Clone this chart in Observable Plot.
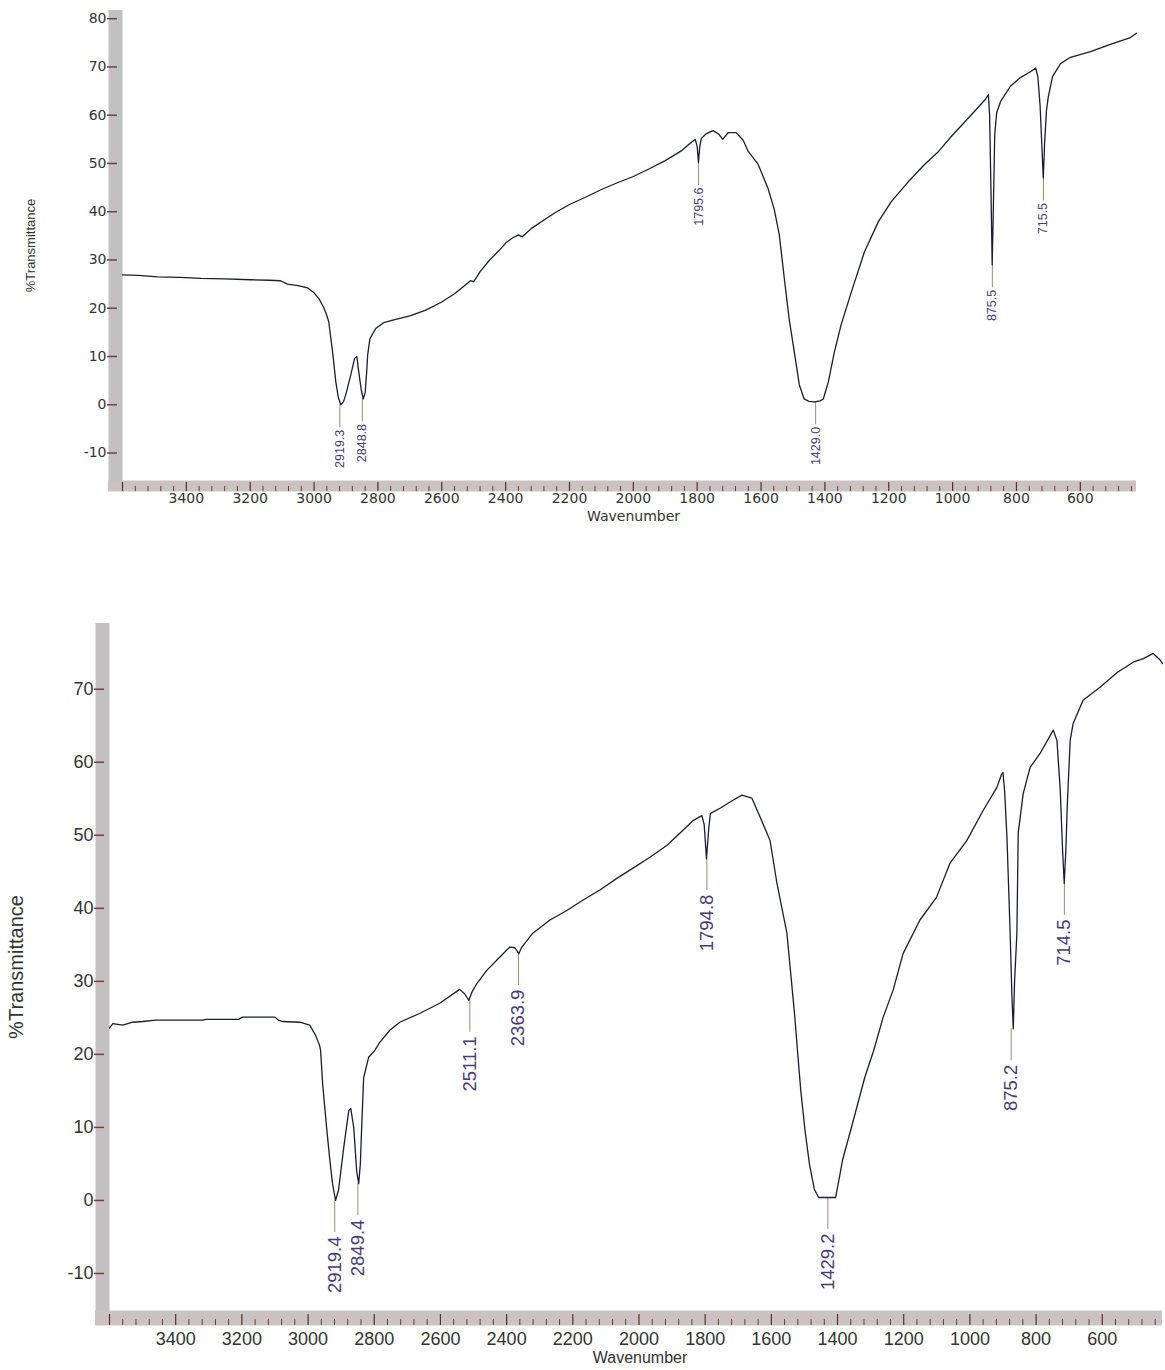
<!DOCTYPE html>
<html><head><meta charset="utf-8">
<script src="https://cdn.jsdelivr.net/npm/d3@7"></script>
<script src="https://cdn.jsdelivr.net/npm/@observablehq/plot@0.6"></script>
<style>
body{margin:0;background:#fff;}
#wrap{position:relative;width:1165px;height:1370px;overflow:hidden;background:#fff;}
#top,#bottom{position:absolute;left:0;}
#top{top:0}
#bottom{top:590px}
</style></head><body><div id="wrap"><div id="top"></div><div id="bottom"></div></div>
<script>
// ---------- data ----------
const xTickLabels = [3400, 3200, 3000, 2800, 2600, 2400, 2200, 2000, 1800, 1600, 1400, 1200, 1000, 800, 600];
const topYTicks = [-10, 0, 10, 20, 30, 40, 50, 60, 70, 80];
const bottomYTicks = [-10, 0, 10, 20, 30, 40, 50, 60, 70];

const topWave = [3600,3550,3490,3420,3355,3280,3199,3140,3105,3083,3051,3020,3000,2985,2970,2960,2954,2941,2932,2924,2916,2908,2901,2885,2873,2866,2860,2852,2846,2840,2835,2832,2825,2807,2782,2750,2700,2650,2600,2560,2530,2510,2500,2490,2480,2450,2420,2400,2380,2360,2348,2335,2320,2280,2240,2200,2150,2100,2050,2000,1950,1900,1850,1820,1806,1800,1796,1792,1787,1771,1750,1731,1720,1710,1703,1678,1656,1640,1609,1578,1559,1543,1527,1512,1496,1480,1465,1450,1433,1415,1405,1389,1370,1349,1317,1276,1232,1192,1139,1088,1044,1000,944,897,888,884,880,876,872,868,862,850,819,788,756,740,733,726,720,716,712,706,700,687,662,631,568,506,443,424];
const topT = [26.9,26.8,26.5,26.4,26.2,26.1,25.9,25.8,25.7,25.0,24.7,24.2,23.2,22.0,20.2,18.5,17.2,10.4,4.8,1.5,0,0.6,2.0,6.2,9.6,10.0,6.8,3.0,1.2,2.5,7.0,10.4,13.7,15.8,17.0,17.6,18.4,19.6,21.3,23.0,24.6,25.7,25.5,26.5,27.6,30.0,32.0,33.5,34.5,35.2,34.8,35.6,36.5,38.3,40.0,41.5,43.0,44.6,46.0,47.3,48.9,50.6,52.6,54.3,55.0,53.5,50.2,53.5,55.2,56.2,56.8,56.0,55.0,55.8,56.4,56.4,54.8,52.5,49.8,44.8,40.6,35.3,26.1,17.8,11.0,4.1,1.2,0.7,0.6,0.8,1.2,4.8,11.0,16.6,23.4,31.7,38.0,42.1,46.2,49.8,52.5,55.9,59.9,63.3,64.3,60.0,45.0,29.0,42.0,56.0,60.5,62.8,66.0,67.8,69.0,69.8,68.0,62.0,53.0,47.0,54.0,61.0,63.9,68.0,70.7,72.0,73.2,74.7,76.1,77.0];

const topPeakWave = [2919.3, 2848.8, 1795.6, 1429.0, 875.5, 715.5];
const topPeakT = [0, 1.2, 50.2, 0.6, 29.0, 47.0];
const topPeakLabels = ["2919.3", "2848.8", "1795.6", "1429.0", "875.5", "715.5"];

const bottomWave = [3600,3590,3560,3530,3500,3460,3400,3320,3307,3210,3198,3100,3090,3077,3025,2995,2977,2965,2962,2956,2944,2935,2926,2917,2908,2892,2877,2871,2862,2853,2847,2842,2838,2832,2817,2799,2784,2753,2723,2663,2602,2542,2527,2514,2505,2490,2460,2421,2390,2375,2363,2355,2345,2321,2269,2218,2170,2118,2067,2018,1967,1916,1867,1837,1810,1803,1796,1789,1784,1755,1716,1689,1659,1634,1604,1583,1553,1529,1521,1511,1498,1485,1470,1457,1406,1395,1385,1355,1318,1291,1262,1232,1202,1151,1101,1060,1009,960,918,905,900,895,888,879,873,869,865,858,854,839,818,788,748,737,727,720,715,710,706,697,688,658,606,555,507,476,446,425,418];
const bottomT = [23.6,24.2,24.0,24.4,24.5,24.7,24.7,24.7,24.8,24.8,25.1,25.1,24.7,24.5,24.4,24.0,22.6,21.2,20.5,16.0,10.0,5.9,2.3,0,1.4,7.3,12.3,12.6,10.0,4.0,2.3,5.0,10.0,16.8,19.6,20.5,21.6,23.3,24.4,25.6,27.0,28.9,28.3,27.4,28.5,29.7,31.5,33.3,34.7,34.6,33.8,34.6,35.2,36.6,38.4,39.7,41.1,42.5,44.1,45.5,47.0,48.6,50.7,52.0,52.7,51.5,46.8,51.0,53.0,53.7,54.8,55.5,55.1,52.5,49.3,43.4,36.6,25.1,20.5,15.0,9.5,5.0,1.5,0.4,0.4,3.0,5.5,10.5,16.8,20.5,25.1,28.8,33.8,38.4,41.5,46.2,49.3,53.4,56.6,58.3,58.6,56.0,49.7,37.4,28.0,23.5,30.0,36.6,50.3,55.7,59.3,61.2,64.4,63.0,56.2,48.0,43.4,48.0,53.8,63.0,65.3,68.5,70.3,72.3,73.7,74.2,74.9,74.0,73.5];

const bottomPeakWave = [2919.4, 2849.4, 2511.1, 2363.9, 1794.8, 1429.2, 875.2, 714.5];
const bottomPeakT = [0, 2.3, 27.4, 33.8, 46.8, 0.4, 23.5, 43.4];
const bottomPeakLabels = ["2919.4", "2849.4", "2511.1", "2363.9", "1794.8", "1429.2", "875.2", "714.5"];

// ---------- chart builder ----------
const plain = d => String(d);

function spectrumChart(o) {
  const spectrum = o.wave.map((w, i) => ({w, t: o.trans[i]}));
  const peaks = o.peakWave.map((w, i) => ({w, t: o.peakT[i], label: o.peakLabels[i]}));
  const all = d3.range(3600, o.xDomain[1], -40);
  const major = all.filter(d => d % 200 === 0);
  const minor = all.filter(d => d % 200 !== 0);
  const y0 = o.yDomain[0], x0 = o.xDomain[0];
  return Plot.plot({
    width: 1165, height: o.height,
    marginLeft: o.ml, marginRight: o.mr, marginTop: o.mt, marginBottom: o.mb,
    x: {domain: o.xDomain},
    y: {domain: o.yDomain},
    style: {background: "transparent", overflow: "visible"},
    marks: [
      Plot.ruleX([x0], {stroke: "#c2c0c0", strokeWidth: o.bw, dx: -o.bw / 2, insetBottom: -o.bh}),
      Plot.ruleY([y0], {stroke: "#cbc2c4", strokeWidth: o.bh, dy: o.bh / 2, insetLeft: -o.bw}),
      Plot.ruleX(minor, {x: d => d, y1: () => y0, y2: () => y0, insetTop: o.bh - o.minorLen, insetBottom: -o.bh, stroke: "#6a3a3a", strokeWidth: 1}),
      Plot.ruleX(major, {x: d => d, y1: () => y0, y2: () => y0, insetTop: o.bh - o.majorLen, insetBottom: -o.bh, stroke: "#5a2e2e", strokeWidth: 1.2}),
      Plot.ruleY(o.yTicks, {y: d => d, x1: () => x0, x2: () => x0, insetLeft: -o.bw - 1, insetRight: o.bw - o.dashLen, stroke: "#7a3c3c", strokeWidth: 1.5}),
      Plot.axisY(o.yTicks, {tickSize: 0, tickPadding: o.bw + 2, tickFormat: plain, label: null, fontSize: o.tickFont, fontFamily: o.tickFamily, fill: "#333"}),
      Plot.axisX(xTickLabels, {tickSize: 0, tickPadding: o.xPad, tickFormat: plain, label: null, fontSize: o.tickFont, fontFamily: o.tickFamily, fill: "#333"}),
      Plot.text(["%Transmittance"], {frameAnchor: "left", rotate: -90, textAnchor: "middle", lineAnchor: "middle", dx: o.titleDx, fontSize: o.titleFont, fontFamily: "Liberation Sans", fill: "#333"}),
      Plot.text(["Wavenumber"], {frameAnchor: "bottom", dy: o.wnDy, dx: o.wnDx, fontSize: o.wnFont, fontFamily: o.wnFamily, fill: "#333"}),
      Plot.ruleX(peaks, {x: "w", y1: "t", y2: "t", insetBottom: -o.leader, stroke: "#a08c70", strokeWidth: 1}),
      Plot.text(peaks, {x: "w", y: "t", text: "label", rotate: -90, textAnchor: "end", dy: o.leader + o.gap, fontSize: o.peakFont, fontFamily: "Liberation Sans", fill: "#4a3a72"}),
      Plot.line(spectrum, {x: "w", y: "t", stroke: "#1b1b38", strokeWidth: 1.3})
    ]
  });
}

document.getElementById("top").append(spectrumChart({
  wave: topWave, trans: topT, peakWave: topPeakWave, peakT: topPeakT, peakLabels: topPeakLabels,
  yTicks: topYTicks, xDomain: [3600, 424], yDomain: [-15.7, 81.7],
  height: 540, ml: 122, mr: 29, mt: 10, mb: 60,
  bw: 14, bh: 11, minorLen: 5, majorLen: 9, dashLen: 9,
  tickFont: 14, tickFamily: "DejaVu Sans", xPad: 13,
  titleDx: -92, titleFont: 13,
  wnDy: 40, wnDx: 4, wnFont: 14, wnFamily: "DejaVu Sans",
  leader: 23, gap: 2, peakFont: 12.5
}));

document.getElementById("bottom").append(spectrumChart({
  wave: bottomWave, trans: bottomT, peakWave: bottomPeakWave, peakT: bottomPeakT, peakLabels: bottomPeakLabels,
  yTicks: bottomYTicks, xDomain: [3600, 418], yDomain: [-15.07, 79.0],
  height: 780, ml: 109, mr: 3, mt: 33, mb: 60,
  bw: 14, bh: 15, minorLen: 6, majorLen: 11, dashLen: 9,
  tickFont: 18, tickFamily: "Liberation Sans", xPad: 22,
  titleDx: -93, titleFont: 20,
  wnDy: 52, wnDx: 4, wnFont: 16, wnFamily: "Liberation Sans",
  leader: 32, gap: 4, peakFont: 18.5
}));
</script>
</body></html>
